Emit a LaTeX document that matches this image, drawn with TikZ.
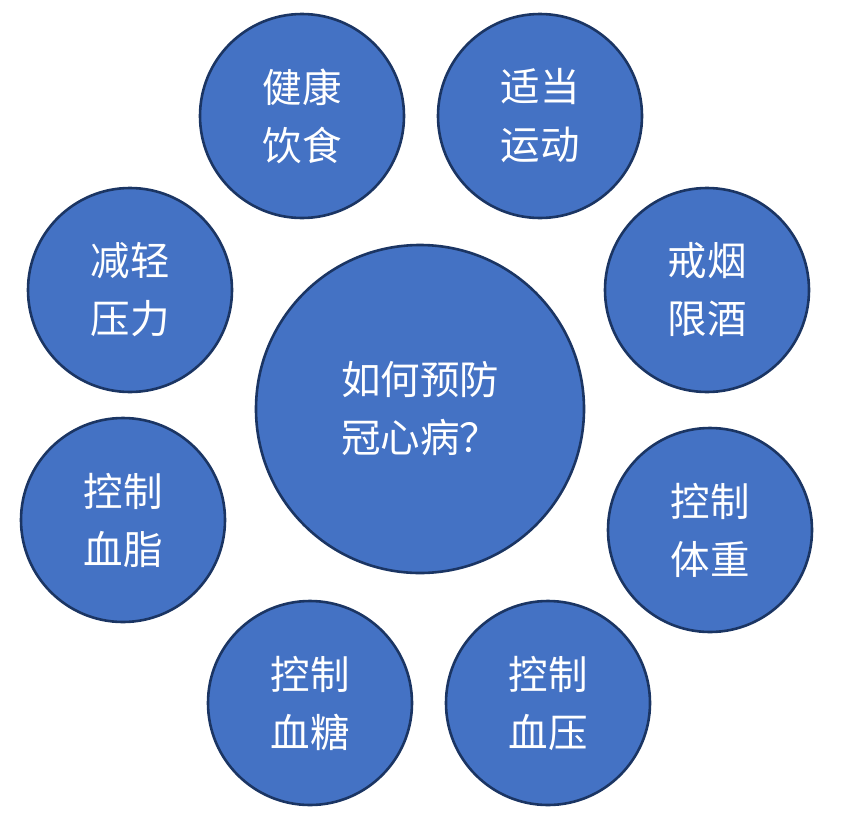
\documentclass[tikz,border=0pt]{standalone}
\usepackage{fontspec}
\newfontfamily\cjk{Noto Sans CJK SC}
\definecolor{fillblue}{HTML}{4472C4}
\definecolor{edgeblue}{HTML}{1B3563}
\begin{document}
\begin{tikzpicture}[x=1pt,y=-1pt,
  bubble/.style={circle,draw=edgeblue,line width=2.6pt,fill=fillblue,inner sep=0pt,
    text=white,font=\cjk\fontsize{39.5}{58}\selectfont,align=center},
  small/.style={bubble,minimum size=204pt},
  big/.style={bubble,minimum size=328pt}]
\useasboundingbox (0,0) rectangle (841,825);
\node[big] (c) at (420,409) {如何预防\\冠心病？};
\node[small] (a1) at (302,116) {健康\\饮食};
\node[small] (a2) at (540,116) {适当\\运动};
\node[small] (a3) at (130,290) {减轻\\压力};
\node[small] (a4) at (707,290) {戒烟\\限酒};
\node[small] (a5) at (123,520) {控制\\血脂};
\node[small] (a6) at (710,530) {控制\\体重};
\node[small] (a7) at (310,703) {控制\\血糖};
\node[small] (a8) at (548,703) {控制\\血压};
\end{tikzpicture}
\end{document}
